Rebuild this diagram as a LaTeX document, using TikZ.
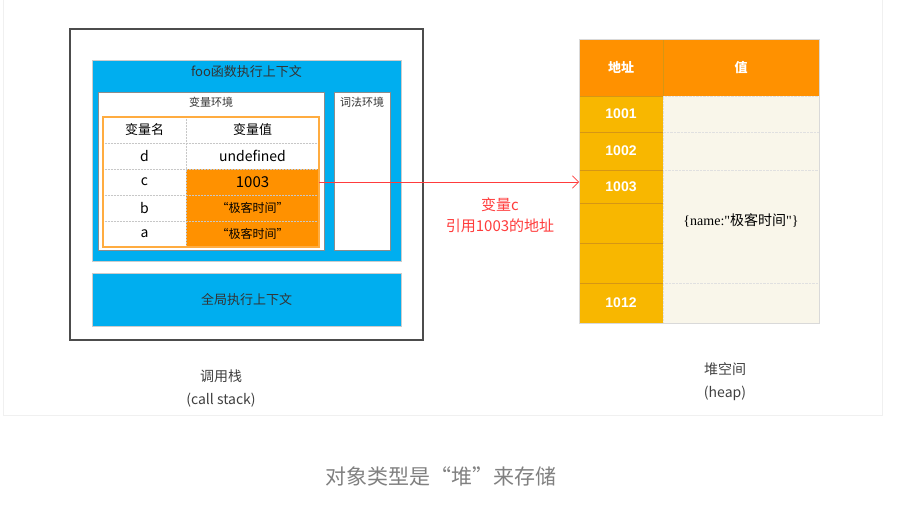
\documentclass[tikz,border=0pt]{standalone}
\usepackage{fontspec}
\newfontfamily\cjk{Noto Sans CJK SC}
\newfontfamily\numfont{Liberation Sans}
\newfontfamily\serffont{Liberation Serif}
\usetikzlibrary{arrows.meta,positioning,calc,fit}
\definecolor{ctxblue}{RGB}{0,174,239}
\definecolor{valorange}{RGB}{255,145,0}
\definecolor{addryellow}{RGB}{248,183,0}
\definecolor{addrline}{RGB}{214,150,20}
\definecolor{heapbg}{RGB}{249,246,234}
\definecolor{refred}{RGB}{255,60,60}

\begin{document}
\begin{tikzpicture}[x=1pt,y=-1pt,font=\cjk,>={Straight Barb[length=2.2mm]},
  box/.style={anchor=north west,inner sep=0pt,outer sep=0pt},
  ctx/.style={box,fill=ctxblue,draw=black!20,line width=0.4pt,minimum width=309pt},
  envbox/.style={box,fill=white,draw=black!45,line width=0.6pt},
  lab/.style={font=\cjk\fontsize{11}{13}\selectfont,text=black!80},
  cell/.style={box,minimum height=26pt,font=\cjk\fontsize{14}{16}\selectfont},
  namecell/.style={cell,minimum width=83pt},
  valcell/.style={cell,minimum width=133pt},
  grid/.style={draw=black!22,line width=0.5pt,densely dotted},
  addr/.style={box,fill=addryellow,draw=addrline,line width=0.5pt,minimum width=84pt,
               text=white,font=\numfont\bfseries\fontsize{14}{16}\selectfont},
  heapval/.style={box,fill=heapbg,draw=black!12,line width=0.4pt,densely dotted,minimum width=156pt},
  caption/.style={align=center,text=black!75,font=\cjk\fontsize{14}{23}\selectfont}]

\useasboundingbox (0,0) rectangle (915,519);
\draw[black!6,line width=0.6pt] (3,0) -- (3,415) -- (882,415) -- (882,0);

% ---- call stack ----
\node[box,draw=black!70,line width=1.2pt,minimum width=353pt,minimum height=311pt] (stack) at (70,29) {};
\node[ctx,minimum height=201pt] (foo) at (92,60) {};
\node[lab,font=\cjk\fontsize{13}{15}\selectfont] (footitle) at ($(foo.north)+(0,12)$) {foo函数执行上下文};
\node[ctx,minimum height=53pt] (global) at (92,273) {};
\node[lab,font=\cjk\fontsize{13}{15}\selectfont] at (global) {全局执行上下文};

% ---- variable / lexical environment ----
\node[envbox,minimum width=226pt,minimum height=158pt] (varenv) at (98,92) {};
\node[lab] at ($(varenv.north)+(0,10)$) {变量环境};
\node[envbox,minimum width=56pt,minimum height=158pt] (lexenv) at (334,92) {};
\node[lab] at ($(lexenv.north)+(0,10)$) {词法环境};

% ---- variable table ----
\node[namecell,font=\cjk\fontsize{13}{15}\selectfont] (n0) at (103,117) {变量名};
\node[valcell,font=\cjk\fontsize{13}{15}\selectfont] (v0) at (186,117) {变量值};
\foreach \nm/\vl/\fl/\vs [count=\i] in {d/undefined/white/14,c/1003/valorange/15,
    b/“极客时间”/valorange/12,a/“极客时间”/valorange/12}{
  \node[namecell] (n\i) at (103,117+26*\i) {\nm};
  \node[valcell,fill=\fl,font=\cjk\fontsize{\vs}{16}\selectfont] (v\i) at (186,117+26*\i) {\vl};
}
\foreach \i in {0,...,3} \draw[grid] (n\i.south west) -- (v\i.south east);
\draw[grid] (v0.north west) -- (v4.south west);
\draw[draw=valorange!75,line width=1.3pt] (n0.north west) rectangle (v4.south east);

% ---- heap ----
\node[box,fill=valorange,draw=addrline,line width=0.5pt,minimum width=84pt,minimum height=57pt,
      text=white,font=\cjk\bfseries\fontsize{13}{15}\selectfont] (haddr) at (579,39) {地址};
\node[box,fill=valorange,draw=addrline,line width=0.5pt,minimum width=156pt,minimum height=57pt,
      text=white,font=\cjk\bfseries\fontsize{13}{15}\selectfont] (hval) at (663,39) {值};
\foreach \ad/\tp/\hh [count=\i] in {1001/96/36,1002/132/38,1003/170/33,/203/40,/243/40,1012/283/40}
  \node[addr,minimum height=\hh pt] (addr\i) at (579,\tp) {\ad};
\node[heapval,minimum height=36pt] (val1) at (663,96) {};
\node[heapval,minimum height=38pt] (val2) at (663,132) {};
\node[heapval,minimum height=113pt] (val3) at (663,170) {};
\node[heapval,minimum height=40pt] (val4) at (663,283) {};
\node[font=\serffont\fontsize{14}{16}\selectfont] (objval) at ($(val3.center)+(0,-6)$) {\{name:"{\cjk 极客时间}"\}};
\draw[black!15,line width=0.5pt] (haddr.north west) rectangle (val4.south east);

% ---- reference c -> 1003 ----
\draw[->,refred,line width=0.6pt] (v2.east) -- (v2.east -| addr3.west);
\node[caption,text=refred,font=\cjk\fontsize{15}{21}\selectfont] (reflab) at (500,215) {变量c\\引用1003的地址};

% ---- captions ----
\node[caption] (stacklab) at (221,388) {调用栈\\(call stack)};
\node[caption] (heaplab) at (725,382) {堆空间\\(heap)};
\node[text=black!50,font=\cjk\fontsize{21}{24}\selectfont] (title) at (441,476) {对象类型是“堆”来存储};
\end{tikzpicture}
\end{document}
